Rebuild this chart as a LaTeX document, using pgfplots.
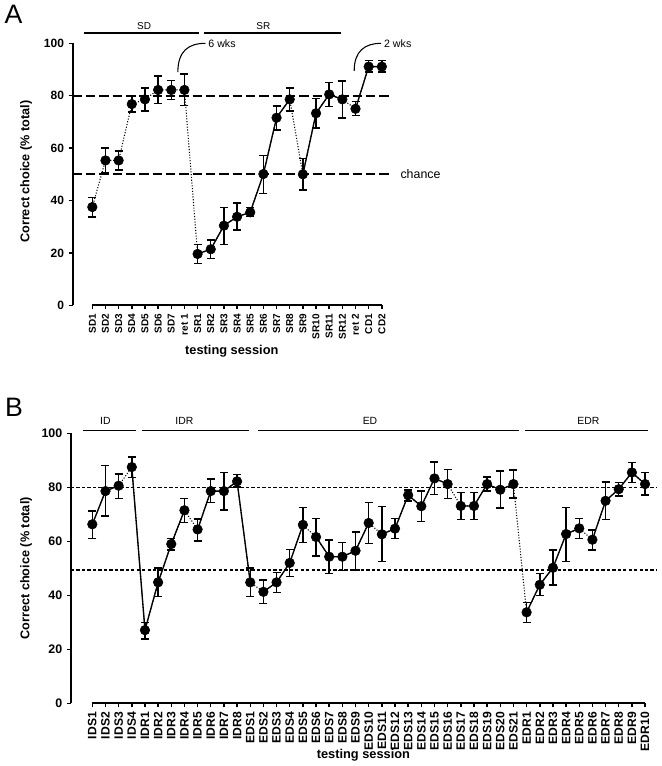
\documentclass[border=0pt]{standalone}
\usepackage{fontspec}
\setmainfont{Liberation Sans}
\usepackage{pgfplots}
\pgfplotsset{compat=1.18}
\usepackage{pgfplotstable}

\pgfplotstableread{
x y ep em
0 37.5 3.7 3.8
1 55.3 4.7 4.8
2 55.3 3.6 3.7
3 76.8 3.0 3.1
4 78.6 4.4 4.4
5 82.2 5.4 5.2
6 82.2 3.7 3.6
7 82.2 6.0 6.0
8 19.6 3.7 3.6
9 21.4 3.5 3.6
10 30.4 7.0 7.1
11 33.8 5.2 5.1
12 35.5 1.8 1.7
13 50.1 7.1 7.4
14 71.6 4.4 4.7
15 78.6 4.4 4.4
16 50.0 6.1 6.0
17 73.3 5.6 5.7
18 80.5 4.5 4.7
19 78.6 7.1 7.1
20 75.0 2.7 2.6
21 91.1 2.3 2.1
22 91.1 2.3 2.1
}\tabA

\pgfplotstableread{
x y ep em
0 66.3 5.0 5.3
1 78.6 9.4 9.2
2 80.6 4.4 4.8
3 87.5 3.8 3.8
4 27.1 2.9 3.2
5 44.8 5.3 5.3
6 59.0 2.1 2.2
7 71.5 4.3 4.5
8 64.4 3.9 4.2
9 78.6 4.5 4.3
10 78.6 6.9 7.0
11 82.2 2.5 2.1
12 44.8 5.3 5.3
13 41.3 4.4 4.3
14 44.8 3.6 3.7
15 52.0 5.0 5.1
16 66.1 6.5 6.5
17 61.6 6.8 7.0
18 54.3 6.2 6.2
19 54.3 5.2 5.2
20 56.5 6.9 7.1
21 66.8 7.6 7.7
22 62.6 10.2 10.1
23 64.7 3.7 3.7
24 77.1 1.9 2.1
25 73.0 5.7 5.7
26 83.3 6.1 6.0
27 81.2 5.3 5.3
28 73.1 4.9 5.1
29 73.1 4.9 5.1
30 81.2 2.7 2.6
31 79.1 6.9 6.8
32 81.2 5.2 5.2
33 33.7 3.7 3.8
34 43.9 4.1 4.0
35 50.2 6.5 6.3
36 62.7 9.9 10.1
37 64.8 3.6 3.8
38 60.6 3.6 3.8
39 75.0 7.0 7.0
40 79.3 2.4 2.6
41 85.5 3.6 3.8
42 81.2 4.2 4.1
}\tabB

\pgfplotsset{
  common/.style={
    axis lines*=left,
    x axis line style={draw=none},
    y axis line style={line width=1.5pt},
    tick align=outside,
    major tick length=3pt,
    tick style={black, line width=1.1pt},
    ymin=0, ymax=100,
    ytick={0,20,...,100},
    enlargelimits=false,
    clip=false,
    /pgf/number format/assume math mode=true,
    x=9.87pt,
    xticklabel style={rotate=90, anchor=east},
  },
  dotline/.style={black, line width=0.8pt, dash pattern=on 0.8pt off 1.3pt},
  solidline/.style={black, line width=1pt},
  pts/.style={black, only marks, mark=*, mark size=3.6pt,
    error bars/.cd, y dir=both, y explicit,
    error bar style={line width=1.1pt},
    error mark options={rotate=90, mark size=3pt, line width=1.1pt}},
}

\begin{document}
\begin{tikzpicture}
\useasboundingbox (0,0) rectangle (495.75pt,-574.5pt);

\node[font=\fontsize{20}{24}\selectfont] at (10.1pt,-10.9pt) {A};
\node[font=\fontsize{20}{24}\selectfont] at (10.5pt,-305.5pt) {B};

% ---------------- Panel A ----------------
\begin{axis}[common,
  at={(54.53pt,-228.98pt)}, anchor=south west,
  xmin=-1.49, xmax=22.64, y=1.965pt,
  xtick={0,...,22},
  xticklabels={SD1,SD2,SD3,SD4,SD5,SD6,SD7,ret 1,SR1,SR2,SR3,SR4,SR5,SR6,SR7,SR8,SR9,SR10,SR11,SR12,ret 2,CD1,CD2},
  xticklabel style={font=\bfseries\fontsize{7.5}{8}\selectfont},
  yticklabel style={font=\bfseries\fontsize{9}{10}\selectfont},
]
\addplot[black, line width=1.5pt, dash pattern=on 7pt off 3pt] coordinates {(-1.49,80) (22.64,80)};
\addplot[black, line width=1.5pt, dash pattern=on 7pt off 3pt] coordinates {(-1.49,50) (22.64,50)};
\addplot[dotline] table[x=x,y=y] {\tabA};
\addplot[solidline, restrict x to domain=8:15] table[x=x,y=y] {\tabA};
\addplot[solidline, restrict x to domain=16:19] table[x=x,y=y] {\tabA};
\addplot[solidline, restrict x to domain=20:22] table[x=x,y=y] {\tabA};
\addplot[pts] table[x=x,y=y,y error plus=ep,y error minus=em] {\tabA};

\draw[line width=1.5pt] (axis cs:0,0) -- (axis cs:22,0);
\draw[line width=1.1pt] (axis cs:-0.63,103.9) -- (axis cs:8.1,103.9);
\draw[line width=1.1pt] (axis cs:8.5,103.9) -- (axis cs:18.9,103.9);
\node[font=\fontsize{7.5}{9}\selectfont] at (axis cs:3.94,106.4) {SD};
\node[font=\fontsize{7.5}{9}\selectfont] at (axis cs:13.0,106.4) {SR};
\draw[line width=0.8pt] (axis cs:6.5,89) .. controls (axis cs:6.5,97) and (axis cs:7.3,100) .. (axis cs:8.6,100);
\node[anchor=west, font=\fontsize{8}{9}\selectfont, inner sep=1pt] at (axis cs:8.7,100) {6 wks};
\draw[line width=0.8pt] (axis cs:19.9,89.5) .. controls (axis cs:19.9,97) and (axis cs:20.7,100) .. (axis cs:21.95,100);
\node[anchor=west, font=\fontsize{8}{9}\selectfont, inner sep=1pt] at (axis cs:22.05,100) {2 wks};
\node[anchor=west, font=\fontsize{9.3}{11}\selectfont, inner sep=0pt] at (axis cs:23.4,50) {chance};
\node[rotate=90, font=\bfseries\fontsize{9.5}{11}\selectfont] at (axis cs:-5.04,51) {Correct choice (\% total)};
\node[font=\bfseries\fontsize{9.6}{11}\selectfont] at (axis cs:10.6,-17.4) {testing session};
\end{axis}

% ---------------- Panel B ----------------
\begin{axis}[common,
  at={(53.25pt,-527.48pt)}, anchor=south west,
  xmin=-1.62, xmax=42.89, y=2.025pt,
  xtick={0,...,42},
  xticklabels={IDS1,IDS2,IDS3,IDS4,IDR1,IDR2,IDR3,IDR4,IDR5,IDR6,IDR7,IDR8,EDS1,EDS2,EDS3,EDS4,EDS5,EDS6,EDS7,EDS8,EDS9,EDS10,EDS11,EDS12,EDS13,EDS14,EDS15,EDS16,EDS17,EDS18,EDS19,EDS20,EDS21,EDR1,EDR2,EDR3,EDR4,EDR5,EDR6,EDR7,EDR8,EDR9,EDR10},
  xticklabel style={font=\bfseries\fontsize{9.1}{10}\selectfont},
  yticklabel style={font=\bfseries\fontsize{9.3}{10}\selectfont},
]
\addplot[black, line width=1.2pt, dash pattern=on 2.5pt off 1.6pt] coordinates {(-1.62,80) (42.89,80)};
\addplot[black, line width=1.2pt, dash pattern=on 2.5pt off 1.6pt] coordinates {(-1.62,49.3) (42.89,49.3)};
\addplot[dotline] table[x=x,y=y] {\tabB};
\addplot[solidline, restrict x to domain=0:2] table[x=x,y=y] {\tabB};
\addplot[solidline, restrict x to domain=3:7] table[x=x,y=y] {\tabB};
\addplot[solidline, restrict x to domain=8:12] table[x=x,y=y] {\tabB};
\addplot[solidline, restrict x to domain=13:16] table[x=x,y=y] {\tabB};
\addplot[solidline, restrict x to domain=17:21] table[x=x,y=y] {\tabB};
\addplot[solidline, restrict x to domain=22:27] table[x=x,y=y] {\tabB};
\addplot[solidline, restrict x to domain=28:32] table[x=x,y=y] {\tabB};
\addplot[solidline, restrict x to domain=33:37] table[x=x,y=y] {\tabB};
\addplot[solidline, restrict x to domain=38:42] table[x=x,y=y] {\tabB};
\addplot[pts] table[x=x,y=y,y error plus=ep,y error minus=em] {\tabB};

\draw[line width=1.5pt] (axis cs:0,0) -- (axis cs:42,0);
\draw[line width=1.1pt] (axis cs:-0.71,101.1) -- (axis cs:3.32,101.1);
\draw[line width=1.1pt] (axis cs:3.75,101.1) -- (axis cs:11.9,101.1);
\draw[line width=1.1pt] (axis cs:12.6,101.1) -- (axis cs:32.4,101.1);
\draw[line width=1.1pt] (axis cs:32.9,101.1) -- (axis cs:42.2,101.1);
\node[font=\fontsize{7.8}{9}\selectfont] at (axis cs:0.99,104.7) {ID};
\node[font=\fontsize{7.8}{9}\selectfont] at (axis cs:7.0,104.7) {IDR};
\node[font=\fontsize{7.8}{9}\selectfont] at (axis cs:21.1,104.7) {ED};
\node[font=\fontsize{7.8}{9}\selectfont] at (axis cs:37.7,104.7) {EDR};
\node[rotate=90, font=\bfseries\fontsize{9.5}{11}\selectfont] at (axis cs:-5.04,50) {Correct choice (\% total)};
\node[font=\bfseries\fontsize{9.6}{11}\selectfont] at (axis cs:20.6,-19.3) {testing session};
\end{axis}
\end{tikzpicture}
\end{document}
